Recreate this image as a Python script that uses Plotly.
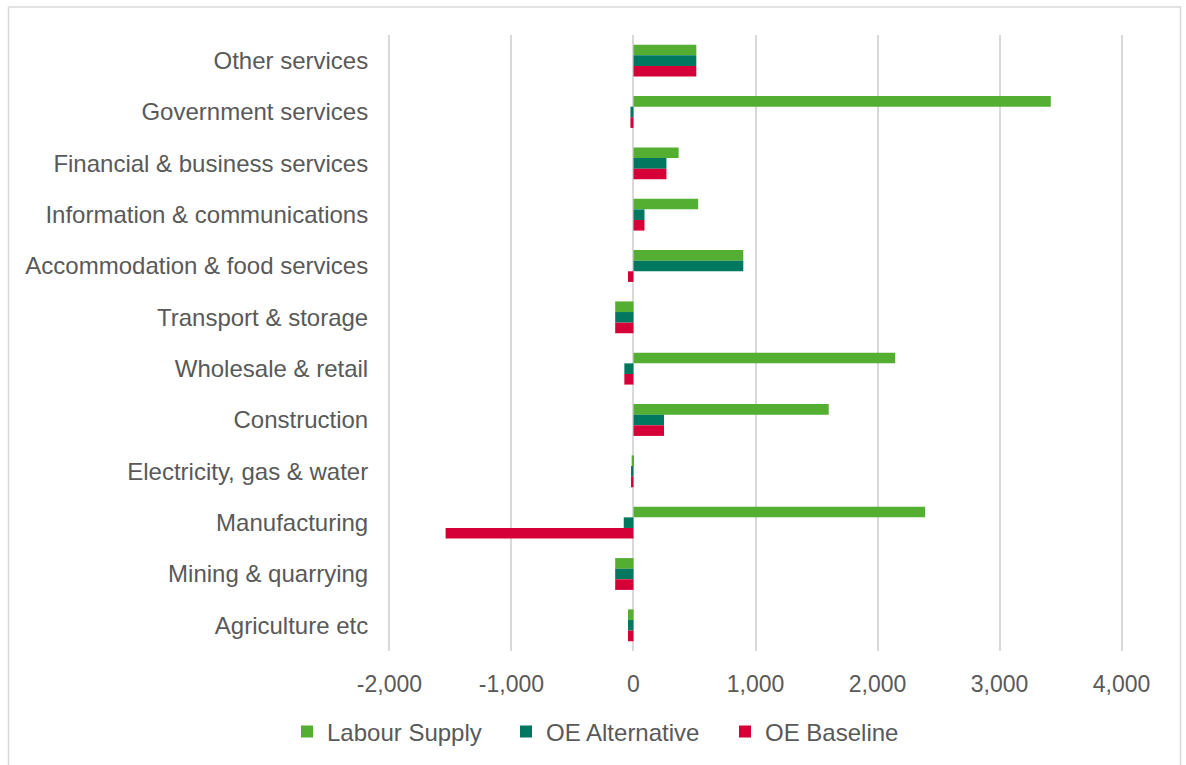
import plotly.graph_objects as go

categories = ["Other services", "Government services", "Financial & business services",
              "Information & communications", "Accommodation & food services",
              "Transport & storage", "Wholesale & retail", "Construction",
              "Electricity, gas & water", "Manufacturing", "Mining & quarrying",
              "Agriculture etc"]
labour_supply = [515, 3420, 370, 530, 900, -150, 2145, 1600, -15, 2390, -150, -45]
oe_alternative = [515, -25, 270, 90, 900, -150, -75, 250, -20, -80, -150, -45]
oe_baseline = [515, -25, 270, 90, -45, -150, -75, 250, -20, -1540, -150, -45]

x_tick_values = [-2000, -1000, 0, 1000, 2000, 3000, 4000]
x_tick_labels = ["-2,000", "-1,000", "0", "1,000", "2,000", "3,000", "4,000"]

series_names = ["Labour Supply", "OE Alternative", "OE Baseline"]
series_values = [labour_supply, oe_alternative, oe_baseline]
colors = ["#53AE32", "#00775F", "#D50037"]

W, H = 1186, 765
ml, mr, mt, mb = 388, 63, 35, 113
pw, ph = W - ml - mr, H - mt - mb

fig = go.Figure()
for name, vals, c in zip(series_names, series_values, colors):
    fig.add_trace(go.Bar(y=categories, x=vals, name=name, orientation="h",
                         marker=dict(color=c, line=dict(width=0))))

font = "Liberation Sans, Arial, sans-serif"
fig.update_layout(
    width=W, height=H,
    margin=dict(l=ml, r=mr, t=mt, b=mb),
    paper_bgcolor="white", plot_bgcolor="white",
    barmode="group", bargap=0.38, bargroupgap=0,
    font=dict(family=font, size=24, color="#595959"),
    legend=dict(orientation="h", x=(287 - ml) / pw, xanchor="left",
                y=(mt + ph - 732) / ph, yanchor="middle",
                font=dict(size=24, color="#595959"), itemwidth=30,
                entrywidth=174, traceorder="normal"),
    showlegend=True,
)
fig.update_xaxes(range=[-2012, 4012], tickvals=x_tick_values, ticktext=x_tick_labels,
                 showgrid=True, gridcolor="#D9D9D9", gridwidth=2,
                 zeroline=True, zerolinecolor="#D9D9D9", zerolinewidth=2,
                 ticks="outside", ticklen=12, tickcolor="rgba(0,0,0,0)",
                 tickfont=dict(size=23, color="#595959"), showline=False, fixedrange=True)
fig.update_yaxes(autorange="reversed", categoryorder="array", categoryarray=categories,
                 showgrid=False, zeroline=False, showline=False,
                 ticks="outside", ticklen=14, tickcolor="rgba(0,0,0,0)",
                 tickfont=dict(size=24, color="#595959"), fixedrange=True)

# outer chart border
fig.add_shape(type="rect", xref="paper", yref="paper",
              x0=(8.5 - ml) / pw, x1=(1180.5 - ml) / pw,
              y0=(mt + ph - 780) / ph, y1=(mt + ph - 7) / ph,
              line=dict(color="#D9D9D9", width=1.5), fillcolor="rgba(0,0,0,0)", layer="below")

fig.write_html("out.html")
